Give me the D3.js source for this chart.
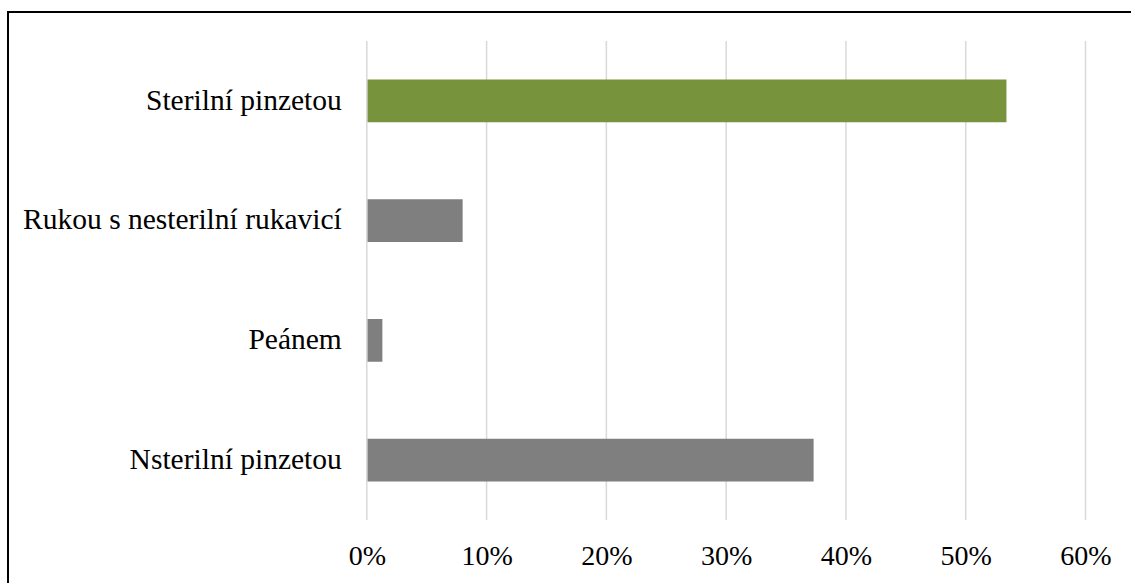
<!DOCTYPE html>
<html>
<head>
<meta charset="utf-8">
<script src="https://cdn.jsdelivr.net/npm/d3@7"></script>
<style>
  html, body { margin: 0; padding: 0; background: #fff; }
  svg { display: block; }
  svg text { font-family: "Liberation Serif", "Times New Roman", Tinos, serif !important; fill: #000; }
</style>
</head>
<body>
<svg id="chart" width="1131" height="583"></svg>
<script>
// Data
const categories = ["Sterilní pinzetou", "Rukou s nesterilní rukavicí", "Peánem", "Nsterilní pinzetou"];
const values = [0.534, 0.08, 0.013, 0.373];
const barColors = ["#77933C", "#7F7F7F", "#7F7F7F", "#7F7F7F"];
const tickValues = [0, 0.1, 0.2, 0.3, 0.4, 0.5, 0.6];
const tickLabels = ["0%", "10%", "20%", "30%", "40%", "50%", "60%"];

const W = 1131, H = 583;
const svg = d3.select("#chart");

// Outer frame (top and left edges visible)
svg.append("rect")
  .attr("x", 8).attr("y", 12)
  .attr("width", W + 20).attr("height", H + 20)
  .attr("fill", "none").attr("stroke", "#000").attr("stroke-width", 2);

const plot = { left: 366.8, right: 1085.5, top: 41, bottom: 520 };

const x = d3.scaleLinear().domain([0, 0.6]).range([plot.left, plot.right]);
const y = d3.scaleBand().domain(categories).range([plot.top, plot.bottom])
  .paddingInner(0.643).paddingOuter(0.3215);

// Gridlines
svg.append("g").selectAll("line").data(tickValues).join("line")
  .attr("x1", d => x(d)).attr("x2", d => x(d))
  .attr("y1", plot.top).attr("y2", plot.bottom)
  .attr("stroke", "#D9D9D9").attr("stroke-width", 1.5);

// Bars
svg.append("g").selectAll("rect").data(categories).join("rect")
  .attr("x", x(0) + 0.75)
  .attr("y", d => y(d))
  .attr("width", (d, i) => x(values[i]) - x(0) - 0.75)
  .attr("height", y.bandwidth())
  .attr("fill", (d, i) => barColors[i]);

// X axis tick labels
const xAxis = d3.axisBottom(x).tickValues(tickValues)
  .tickFormat((d, i) => tickLabels[i]).tickSize(0).tickPadding(0);
const gx = svg.append("g").attr("transform", `translate(0, ${plot.bottom})`).call(xAxis)
  .attr("font-family", "Liberation Serif");
gx.select(".domain").remove();
gx.selectAll("text")
  .attr("y", 45).attr("dy", null)
  .attr("font-size", 28).attr("fill", "#000");

// Y axis category labels
const yAxis = d3.axisLeft(y).tickSize(0).tickPadding(25);
const gy = svg.append("g").attr("transform", `translate(${plot.left}, 0)`).call(yAxis)
  .attr("font-family", "Liberation Serif");
gy.select(".domain").remove();
gy.selectAll("text")
  .attr("dy", "0.3em")
  .attr("font-size", 29.5).attr("fill", "#000");
</script>
</body>
</html>
